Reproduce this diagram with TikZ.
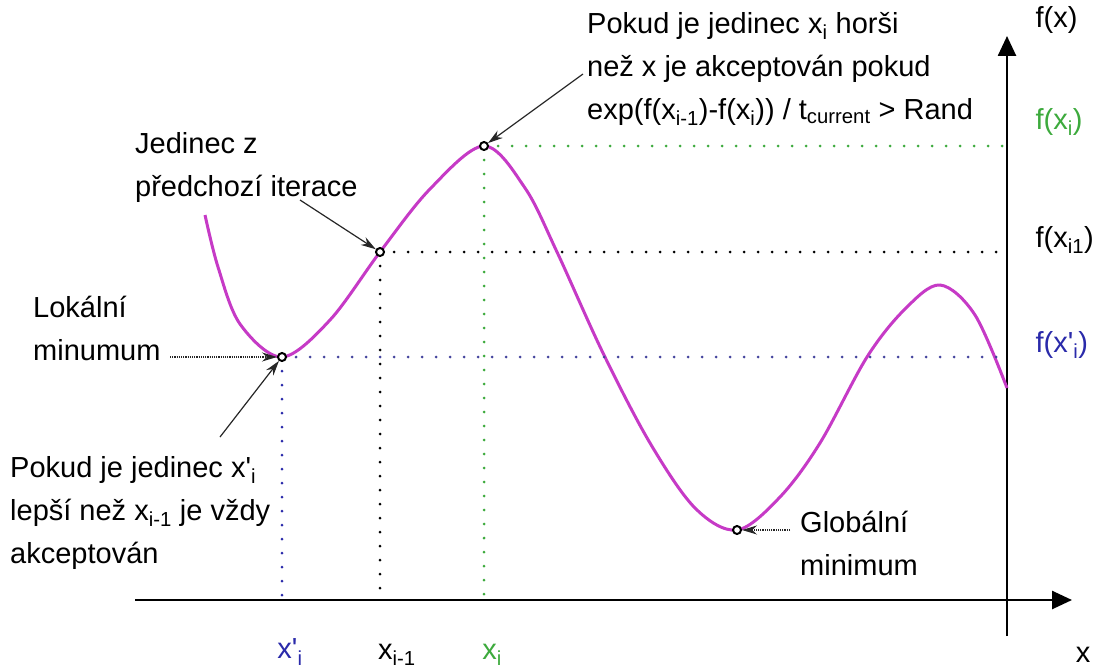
\documentclass[tikz,border=0pt]{standalone}
\usepackage{fontspec}
\setmainfont{Liberation Sans}
\definecolor{ssmag}{HTML}{C63AC6}
\definecolor{ssgreen}{HTML}{3DAA3D}
\definecolor{ssblue}{HTML}{2A2AAA}
\usetikzlibrary{arrows.meta,positioning}
\newcommand{\ix}[1]{\textsubscript{#1}}

\begin{document}
\begin{tikzpicture}[x=1pt,y=-1pt,font=\fontsize{29}{43}\selectfont,
  lbl/.style={align=left,anchor=north west,inner sep=0pt},
  guide/.style={line width=3pt,line cap=round,dash pattern=on 0pt off 14pt},
  pointer/.style={-{Stealth[length=15pt,width=9pt]},line width=1.2pt,black!85},
  spot/.style={circle,draw,line width=2pt,fill=white,inner sep=0pt,minimum size=8pt},
  axis/.style={line width=2.6pt,-{Triangle[length=20pt,width=18pt]}}]
  \useasboundingbox (0,0) rectangle (1099,669);
  % axes
  \coordinate (xs) at (135,600);
  \coordinate (xe) at (1072,600);
  \coordinate (ys) at (1007,636);
  \coordinate (ye) at (1007,36);
  \draw[axis] (xs) -- (xe);
  \draw[axis] (ys) -- (ye);
  % the function
  \coordinate (pmin) at (282,357);
  \coordinate (pprev) at (380,252);
  \coordinate (pcur) at (484,146);
  \coordinate (pglob) at (737,530);
  \draw[ssmag,line width=3pt] plot[smooth,tension=0.55] coordinates {
    (205,215) (218,267) (240,324) (282,357) (330,320) (380,252) (430,189)
    (484,146) (525,188) (557,252) (603,353) (650,443) (695,508) (737,530)
    (780,497) (820,443) (867,357) (905,309) (940,285) (975,315) (1007,388)};
  % guides
  \draw[guide,ssblue!70!gray] (pmin) -- (pmin -| ys);
  \draw[guide,ssblue] (pmin) -- (pmin |- xs);
  \draw[guide,black] (pprev) -- (pprev -| ys);
  \draw[guide,black] (pprev) -- (pprev |- xs);
  \draw[guide,ssgreen] (pcur) -- (pcur -| ys);
  \draw[guide,ssgreen] (pcur) -- (pcur |- xs);
  \node[spot] (smin) at (pmin) {};
  \node[spot] (sprev) at (pprev) {};
  \node[spot] (scur) at (pcur) {};
  \node[spot] (sglob) at (pglob) {};
  % axis labels
  \node[anchor=west] (fx) at (1032,20) {f(x)};
  \node[anchor=west,ssgreen] (fxi) at (1032,122) {f(x\ix{i})};
  \node[anchor=west] (fxp) at (1032,240) {f(x\ix{i1})};
  \node[anchor=west,ssblue] (fxq) at (1032,345) {f(x\textquotesingle\ix{i})};
  \node (xl) at (1083,655) {x};
  \node[ssblue] (xq) at (290,652) {x\textquotesingle\ix{i}};
  \node (xp) at (397,655) {x\ix{i-1}};
  \node[ssgreen] (xi) at (492,655) {x\ix{i}};
  % notes
  \node[lbl] (worse) at (587,12) {Pokud je jedinec x\ix{i} horši\\
    než x je akceptován pokud\\
    exp(f(x\ix{i-1})-f(x\ix{i})) / t\ix{current} > Rand};
  \node[lbl] (prev) at (135,132) {Jedinec z\\předchozí iterace};
  \node[lbl] (lmin) at (33,296) {Lokální\\minumum};
  \node[lbl] (better) at (10,456) {Pokud je jedinec x\textquotesingle\ix{i}\\
    lepší než x\ix{i-1} je vždy\\akceptován};
  \node[lbl] (gmin) at (800,511) {Globální\\minimum};
  % pointers
  \coordinate (c1) at (583,74);
  \coordinate (c2) at (300,200);
  \coordinate (c3) at (170,357);
  \coordinate (c4) at (220,437);
  \coordinate (c5) at (790,530);
  \draw[pointer] (c1) -- (scur);
  \draw[pointer] (c2) -- (sprev);
  \draw[pointer,densely dotted] (c3) -- (smin);
  \draw[pointer] (c4) -- (smin);
  \draw[pointer,densely dotted] (c5) -- (sglob);
\end{tikzpicture}
\end{document}
